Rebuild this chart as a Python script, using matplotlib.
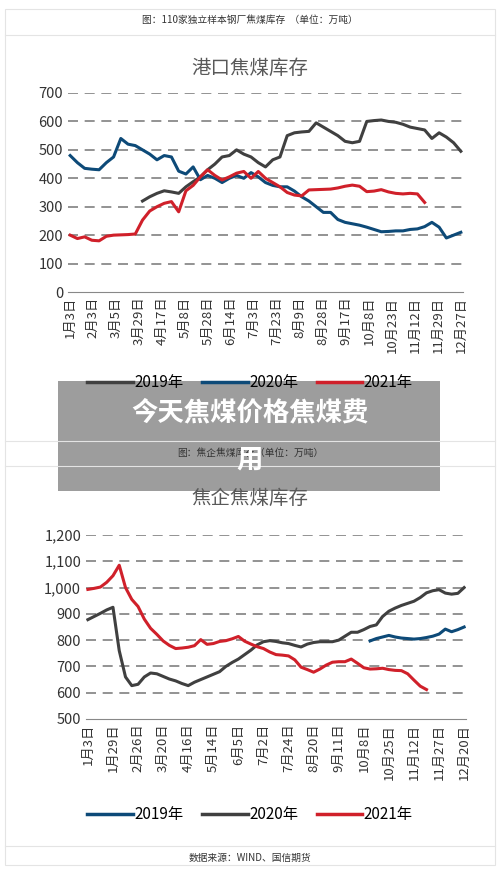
import matplotlib.pyplot as plt
import numpy as np

plt.rcParams['font.family'] = ['Noto Sans CJK SC', 'DejaVu Sans']

N = None
# ---- 港口焦煤库存 ----
top_ticks = ['1月3日', '2月3日', '3月5日', '3月29日', '4月17日', '5月8日', '5月28日', '6月14日', '7月3日', '7月23日',
             '8月9日', '8月28日', '9月17日', '10月8日', '10月23日', '11月12日', '11月29日', '12月27日']
top_2019 = [N]*10 + [320, 335, 347, 356, 352, 347, 370, 388, 405, 430, 450, 475, 480, 500, 485, 475, 455, 440, 465, 475,
                     550, 560, 563, 565, 595, 580, 565, 550, 530, 525, 530, 600, 603, 605, 600, 597, 590, 580, 575, 570,
                     540, 560, 545, 525, 495]
top_2020 = [480, 455, 435, 432, 430, 455, 475, 540, 520, 515, 500, 485, 465, 480, 475, 425, 415, 440, 395, 410,
            400, 385, 400, 410, 400, 420, 405, 385, 375, 370, 370, 355, 335, 320, 300, 280, 280, 255, 245, 240,
            235, 228, 220, 212, 213, 215, 215, 220, 222, 230, 245, 228, 190, 200, 210]
top_2021 = [200, 188, 194, 182, 180, 196, 200, 201, 202, 204, 253, 285, 300, 312, 318, 282, 356, 375, 405, 430,
            410, 394, 405, 418, 424, 400, 424, 400, 385, 370, 350, 341, 338, 359, 360, 361, 362, 366, 372, 376,
            372, 353, 355, 360, 352, 347, 345, 347, 345, 315] + [N]*5

# ---- 焦企焦煤库存 ----
bot_ticks = ['1月3日', '1月29日', '2月26日', '3月20日', '4月16日', '5月14日', '6月5日', '7月2日', '7月24日', '8月20日',
             '9月11日', '10月8日', '10月25日', '11月12日', '11月27日', '12月20日']
bot_2019 = [N]*45 + [797, 806, 812, 818, 812, 808, 806, 804, 806, 810, 815, 823, 842, 832, 840, 850]
bot_2020 = [878, 890, 902, 915, 925, 760, 660, 627, 632, 660, 675, 672, 662, 652, 645, 635, 627, 640, 650, 660,
            670, 680, 700, 715, 728, 745, 762, 782, 794, 798, 795, 790, 787, 780, 774, 785, 791, 794, 794, 794,
            800, 815, 830, 830, 840, 852, 858, 890, 910, 922, 932, 940, 948, 962, 980, 988, 992, 979, 975, 978, 1000]
bot_2021 = [993, 997, 1002, 1020, 1045, 1085, 1000, 955, 928, 880, 845, 822, 797, 780, 768, 770, 773, 779, 802, 784,
            787, 795, 798, 805, 814, 796, 785, 775, 768, 755, 745, 743, 740, 725, 697, 688, 678, 690, 705, 716,
            718, 718, 728, 712, 695, 690, 691, 693, 688, 685, 684, 672, 648, 625, 612] + [N]*6

BLACK, BLUE, RED = '#404040', '#0d4a78', '#d0202a'
H = 874


def arr(v):
    return np.array([np.nan if x is None else x for x in v], dtype=float)


fig = plt.figure(figsize=(5, 8.74), dpi=100)
# panel separator lines
for y in [35, 441, 466, 846]:
    fig.add_artist(plt.Line2D([0.01, 0.99], [1 - y/H, 1 - y/H], color='#e4e4e4', lw=0.8))
fig.add_artist(plt.Rectangle((0.01, 0.01), 0.98, 0.98, fill=False, ec='#e4e4e4', lw=0.8))
fig.text(0.5, 1 - 20/H, '图：110家独立样本钢厂焦煤库存  （单位：万吨）', ha='center', va='center', fontsize=7, color='#333333')
fig.text(0.5, 1 - 453/H, '图：焦企焦煤库存（单位：万吨）', ha='center', va='center', fontsize=7, color='#333333')
fig.text(0.5, 1 - 858/H, '数据来源：WIND、国信期货', ha='center', va='center', fontsize=7, color='#333333')


def panel(rect, ticks, s19, s20, s21, ylim, ystep, title, title_y, leg_y, order, fmt):
    ax = fig.add_axes(rect)
    x = np.arange(len(s20))
    ax.plot(x, arr(s19), color=BLACK if order == 'top' else BLUE, lw=2.2)
    ax.plot(x, arr(s20), color=BLUE if order == 'top' else BLACK, lw=2.2)
    ax.plot(x, arr(s21), color=RED, lw=2.2)
    ax.set_ylim(*ylim)
    ax.set_xlim(-0.3, len(s20) - 0.7)
    yt = np.arange(ylim[0], ylim[1] + 1, ystep)
    ax.set_yticks(yt)
    ax.set_yticklabels([fmt(v) for v in yt], fontsize=10.5, color='#333333')
    for v in yt[1:]:
        ax.axhline(v, color='#808080', lw=1.2, ls=(0, (6, 4)), zorder=0)
    step = (len(s20) - 1) / (len(ticks) - 1)
    ax.set_xticks([i * step for i in range(len(ticks))])
    ax.set_xticklabels(ticks, rotation=90, fontsize=9.5, color='#333333')
    for s in ['top', 'right', 'left']:
        ax.spines[s].set_visible(False)
    ax.spines['bottom'].set_color('#888888')
    ax.tick_params(length=0)
    fig.text(0.5, 1 - title_y/H, title, ha='center', va='center', fontsize=14, color='#595959')
    labels = ['2019年', '2020年', '2021年']
    cols = [BLACK, BLUE, RED] if order == 'top' else [BLUE, BLACK, RED]
    hs = [plt.Line2D([], [], color=c, lw=2.5) for c in cols]
    fig.legend(hs, labels, loc='center', bbox_to_anchor=(0.5, 1 - leg_y/H), ncol=3, frameon=False,
               fontsize=11, handlelength=3, handletextpad=0.1, columnspacing=1.2)
    return ax


panel([0.136, 1 - 292/H, 0.79, 199/H], top_ticks, top_2019, top_2020, top_2021, (0, 700), 100,
      '港口焦煤库存', 68, 383, 'top', lambda v: f'{v}')
panel([0.172, 1 - 719/H, 0.76, 184/H], bot_ticks, bot_2019, bot_2020, bot_2021, (500, 1200), 100,
      '焦企焦煤库存', 498, 815, 'bot', lambda v: f'{v:,}')

# grey overlay banner
fig.add_artist(plt.Rectangle((58/500, 1 - 491/H), 382/500, 110/H, fc='#8c8c8c', alpha=0.85, ec='none'))
fig.text(0.5, 1 - 413/H, '今天焦煤价格焦煤费', ha='center', va='center', fontsize=19, color='white', weight='bold')
fig.text(0.5, 1 - 460/H, '用', ha='center', va='center', fontsize=19, color='white', weight='bold')

fig.savefig('out.png')
